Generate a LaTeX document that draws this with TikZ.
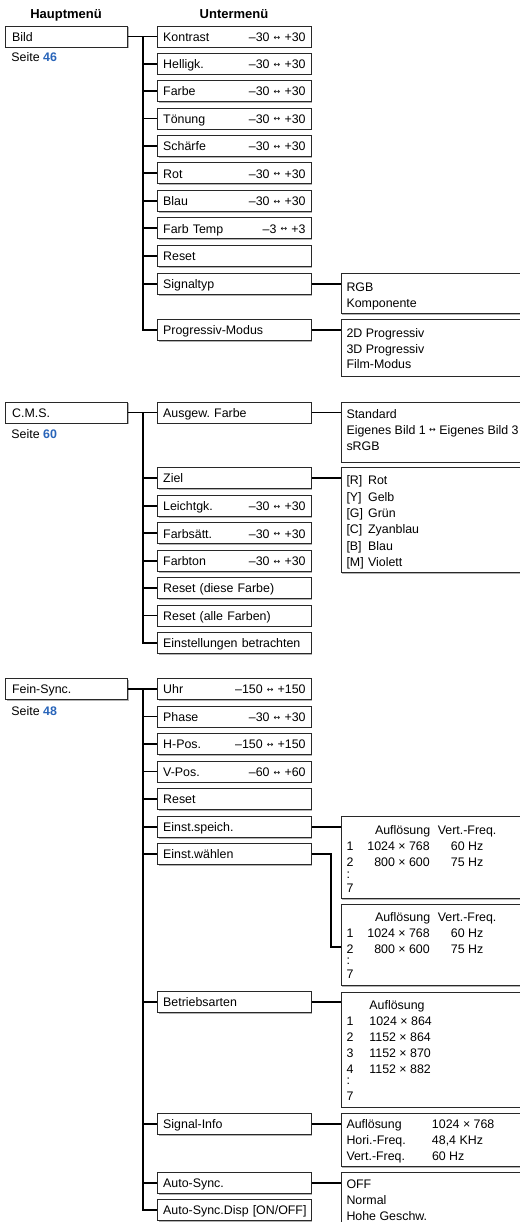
\documentclass[tikz,border=0pt]{standalone}
\usepackage{fontspec}
\setmainfont{Liberation Sans}
\newfontfamily\symfont{DejaVu Sans}
\usetikzlibrary{shadows}
\definecolor{seiteblue}{RGB}{40,100,185}
\definecolor{boxline}{RGB}{40,40,40}
\newcommand\lr{\raisebox{1.3pt}{\symfont\fontsize{8}{8}\selectfont ↔}}
\newcommand\pg[1]{\textbf{\color{seiteblue}#1}}
\frenchspacing
\begin{document}
\begin{tikzpicture}[x=1pt,y=-1pt,
  every node/.style={font=\fontsize{12.4}{16}\selectfont},
  shad/.style={general shadow={fill=black!30, shadow xshift=1.2pt, shadow yshift=-1.2pt}},
  boxbase/.style={draw=boxline, line width=0.8pt, fill=white, rectangle, anchor=north west,
    minimum height=21pt, text height=9.5pt, text depth=0pt, inner ysep=0pt, shad},
  mainbox/.style={boxbase, minimum width=122.3pt, text width=108.9pt, inner xsep=6.7pt, align=left},
  subbox/.style={boxbase, minimum width=153.4pt, text width=142.4pt, inner xsep=5.5pt, align=left},
  resbox/.style={draw=boxline, line width=0.8pt, fill=white, rectangle, anchor=north west,
    minimum width=200pt, inner sep=0pt, shad},
  restext/.style={anchor=north west, inner sep=0pt},
  seite/.style={anchor=base west, inner sep=0pt},
  head/.style={anchor=base, inner sep=0pt, font=\bfseries\fontsize{13}{16}\selectfont},
  conn/.style={line width=1.7pt, black}]
\useasboundingbox (0,0) rectangle (519,1222);

% headers
\node[head] (hm) at (66,18.3) {Hauptmenü};
\node[head] (um) at (234,18.3) {Untermenü};

% ---------------- Section 1: Bild
\node[mainbox] (bild) at (5,25.7) {Bild};
\node[seite] (s46) at (11.2,62) {Seite \pg{46}};
\node[subbox] (kon)   at (157.3,25.7)  {Kontrast\hfill –30 \lr{} +30};
\node[subbox] (hel)   at (157.3,52.9)  {Helligk.\hfill –30 \lr{} +30};
\node[subbox] (farbe) at (157.3,80.2)  {Farbe\hfill –30 \lr{} +30};
\node[subbox] (ton)   at (157.3,107.6) {Tönung\hfill –30 \lr{} +30};
\node[subbox] (sch)   at (157.3,135.0) {Schärfe\hfill –30 \lr{} +30};
\node[subbox] (rot)   at (157.3,162.4) {Rot\hfill –30 \lr{} +30};
\node[subbox] (blau)  at (157.3,190.0) {Blau\hfill –30 \lr{} +30};
\node[subbox] (ftemp) at (157.3,217.4) {Farb Temp\hfill –3 \lr{} +3};
\node[subbox] (resa)  at (157.3,245.0) {Reset};
\node[subbox] (sig)   at (157.3,273.3) {Signaltyp};
\node[subbox] (prog)  at (157.3,319.0) {Progressiv-Modus};
\coordinate (t1) at (142.7,36.2);
\draw[conn] (bild.east) -- (kon.west);
\draw[conn] (t1) |- (prog.west);
\foreach \n in {kon,hel,farbe,ton,sch,rot,blau,ftemp,resa,sig}
  \draw[conn] (\n.west) -- (\n.west -| t1);

\node[resbox, minimum height=40pt] (sigr) at (340.7,273.3) {};
\node[restext] (sigt) at (346.3,280) {\begin{tabular}{@{}l@{}}RGB\\Komponente\end{tabular}};
\draw[conn] (sig.east) -- (sig.east -| sigr.west);

\node[resbox, minimum height=56.4pt] (progr) at (340.7,319.3) {};
\node[restext] (progt) at (346.3,325.6) {\begin{tabular}{@{}l@{}}2D Progressiv\\3D Progressiv\\Film-Modus\end{tabular}};
\draw[conn] (prog.east) -- (prog.east -| progr.west);

% ---------------- Section 2: C.M.S.
\node[mainbox] (cms) at (5,401.7) {C.M.S.};
\node[seite] (s60) at (11.2,438) {Seite \pg{60}};
\node[subbox] (aus)    at (157.3,401.7) {Ausgew. Farbe};
\node[subbox] (ziel)   at (157.3,467.3) {Ziel};
\node[subbox] (leicht) at (157.3,495.0) {Leichtgk.\hfill –30 \lr{} +30};
\node[subbox] (fsatt)  at (157.3,522.4) {Farbsätt.\hfill –30 \lr{} +30};
\node[subbox] (fton)   at (157.3,549.9) {Farbton\hfill –30 \lr{} +30};
\node[subbox] (rdiese) at (157.3,577.3) {Reset (diese Farbe)};
\node[subbox] (ralle)  at (157.3,604.6) {Reset (alle Farben)};
\node[subbox] (einst)  at (157.3,632.3) {Einstellungen betrachten};
\coordinate (t2) at (142.7,412.2);
\draw[conn] (cms.east) -- (aus.west);
\draw[conn] (t2) |- (einst.west);
\foreach \n in {aus,ziel,leicht,fsatt,fton,rdiese,ralle}
  \draw[conn] (\n.west) -- (\n.west -| t2);

\node[resbox, minimum height=60pt] (ausr) at (340.7,401.7) {};
\node[restext] (aust) at (346.3,406.6) {\begin{tabular}{@{}l@{}}Standard\\Eigenes Bild 1 \lr{} Eigenes Bild 3\\sRGB\end{tabular}};
\draw[conn] (aus.east) -- (aus.east -| ausr.west);

\node[resbox, minimum height=105pt] (zielr) at (340.7,467.3) {};
\node[restext, font=\fontsize{12.4}{16.3}\selectfont] (zielt) at (346.3,473.3) {\begin{tabular}{@{}p{21.6pt}@{}l@{}}{[R]} & Rot\\{[Y]} & Gelb\\{[G]} & Grün\\{[C]} & Zyanblau\\{[B]} & Blau\\{[M]} & Violett\end{tabular}};
\draw[conn] (ziel.east) -- (ziel.east -| zielr.west);

% ---------------- Section 3: Fein-Sync.
\node[mainbox] (fein) at (5,678.3) {Fein-Sync.};
\node[seite] (s48) at (11.2,715) {Seite \pg{48}};
\node[subbox] (uhr)    at (157.3,678.3)  {Uhr\hfill –150 \lr{} +150};
\node[subbox] (phase)  at (157.3,705.7)  {Phase\hfill –30 \lr{} +30};
\node[subbox] (hpos)   at (157.3,733.3)  {H-Pos.\hfill –150 \lr{} +150};
\node[subbox] (vpos)   at (157.3,760.7)  {V-Pos.\hfill –60 \lr{} +60};
\node[subbox] (resc)   at (157.3,788.3)  {Reset};
\node[subbox] (speich) at (157.3,816.0)  {Einst.speich.};
\node[subbox] (waehl)  at (157.3,843.3)  {Einst.wählen};
\node[subbox] (betr)   at (157.3,991.0)  {Betriebsarten};
\node[subbox] (sinfo)  at (157.3,1113.3) {Signal-Info};
\node[subbox] (async)  at (157.3,1172.3) {Auto-Sync.};
\node[subbox] (adisp)  at (157.3,1199.3) {\mbox{Auto-Sync.Disp [ON/OFF]}};
\coordinate (t3) at (142.7,688.8);
\draw[conn] (fein.east) -- (uhr.west);
\draw[conn] (t3) |- (adisp.west);
\foreach \n in {uhr,phase,hpos,vpos,resc,speich,waehl,betr,sinfo,async}
  \draw[conn] (\n.west) -- (\n.west -| t3);

\node[resbox, minimum height=82.3pt] (speichr) at (340.7,816) {};
\node[restext] (speicht) at (346.3,823.3) {\begin{tabular}{@{}l@{\hspace{14pt}}r@{\hspace{8pt}}c@{}}
 & \multicolumn{1}{c}{Auflösung} & Vert.-Freq.\\
1 & 1024 × 768 & 60 Hz\\
2 & 800 × 600 & 75 Hz\\[-4.5pt]
: & & \\[-2pt]
7 & &
\end{tabular}};
\draw[conn] (speich.east) -- (speich.east -| speichr.west);

\node[resbox, minimum height=80.7pt] (waehlr) at (340.7,904.3) {};
\node[restext] (waehlt) at (346.3,910) {\begin{tabular}{@{}l@{\hspace{14pt}}r@{\hspace{8pt}}c@{}}
 & \multicolumn{1}{c}{Auflösung} & Vert.-Freq.\\
1 & 1024 × 768 & 60 Hz\\
2 & 800 × 600 & 75 Hz\\[-4.5pt]
: & & \\[-2pt]
7 & &
\end{tabular}};
\coordinate (wbend) at (331,0);
\coordinate (wj) at (340.7,946.7);
\draw[conn] (waehl.east) -- (waehl.east -| wbend) |- (wj);

\node[resbox, minimum height=115pt] (betrr) at (340.7,991.7) {};
\node[restext] (betrt) at (346.3,997.6) {\begin{tabular}{@{}l@{\hspace{16pt}}l@{}}
 & Auflösung\\
1 & 1024 × 864\\
2 & 1152 × 864\\
3 & 1152 × 870\\
4 & 1152 × 882\\[-4.5pt]
: & \\[-0.5pt]
7 &
\end{tabular}};
\draw[conn] (betr.east) -- (betr.east -| betrr.west);

\node[resbox, minimum height=52.7pt] (sinfor) at (340.7,1113.3) {};
\node[restext] (sinfot) at (346.3,1117.3) {\begin{tabular}{@{}p{85.5pt}@{}l@{}}
Auflösung & 1024 × 768\\
Hori.-Freq. & 48,4 KHz\\
Vert.-Freq. & 60 Hz
\end{tabular}};
\draw[conn] (sinfo.east) -- (sinfo.east -| sinfor.west);

\node[resbox, minimum height=70pt] (asyncr) at (340.7,1172.3) {};
\node[restext] (asynct) at (346.3,1176.6) {\begin{tabular}{@{}l@{}}OFF\\Normal\\Hohe Geschw.\end{tabular}};
\draw[conn] (async.east) -- (async.east -| asyncr.west);
\end{tikzpicture}
\end{document}
